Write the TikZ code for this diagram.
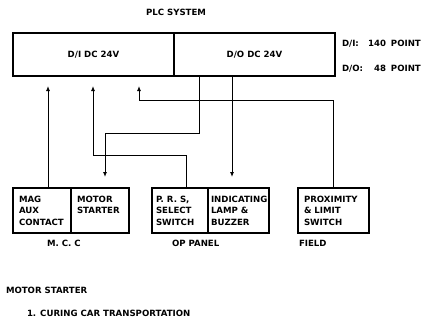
\documentclass[tikz,border=0pt]{standalone}
\usepackage{fontspec}
\setmainfont{DejaVu Sans}
\usetikzlibrary{arrows.meta}
\begin{document}
\begin{tikzpicture}[x=1pt,y=-1pt,
	every node/.style={font=\bfseries\fontsize{8.6}{11.5}\selectfont,inner sep=0pt,outer sep=0pt},
	plc/.style={draw,line width=1.4pt,anchor=north west,minimum width=161pt,minimum height=43pt},
	unit/.style={draw,line width=1.4pt,anchor=north west,minimum height=45pt},
	txt/.style={anchor=north west,align=left},
	wire/.style={line width=.9pt},
	arr/.style={wire,-{Latex[length=5pt,width=4pt]}}]
	\useasboundingbox(0,0)rectangle(427,321);
	\node(title)at(176,12.5){PLC SYSTEM};
	\node[plc](di)at(13,33){D/I DC 24V};
	\node[plc](do)at(di.north east){D/O DC 24V};
	\node[txt](pts)at(342,38.5){\begin{tabular}{@{}l@{\hspace{5pt}}r@{\hspace{5pt}}l@{}}
		D/I:&140&POINT\\[13.5pt]
		D/O:&48&POINT\end{tabular}};
	\node[unit,minimum width=58pt](mag)at(13,188){};
	\node[unit,minimum width=58pt](mst)at(mag.north east){};
	\node[unit,minimum width=56pt](pbs)at(152,188){};
	\node[unit,minimum width=61pt](ind)at(pbs.north east){};
	\node[unit,minimum width=71pt](prox)at(298,188){};
	\node[txt](magt)at([shift={(6,8)}]mag.north west){MAG\\AUX\\CONTACT};
	\node[txt](mstt)at([shift={(6,8)}]mst.north west){MOTOR\\STARTER};
	\node[txt](pbst)at([shift={(4,8)}]pbs.north west){P. R. S,\\SELECT\\SWITCH};
	\node[txt](indt)at([shift={(3,8)}]ind.north west){INDICATING\\LAMP \&\\BUZZER};
	\node[txt](proxt)at([shift={(6,8)}]prox.north west){PROXIMITY\\\& LIMIT\\SWITCH};
	\node[anchor=north west](mcc)at([shift={(34,7)}]mag.south west){M. C. C};
	\node[anchor=north west](op)at([shift={(20,7)}]pbs.south west){OP PANEL};
	\node[anchor=north west](fld)at([shift={(1,7)}]prox.south west){FIELD};
	\node[anchor=west](ms)at(6,290){MOTOR STARTER};
	\node[anchor=west](cur)at(27,313){1. CURING CAR TRANSPORTATION};
	\coordinate(i1)at([shift={(35,10)}]di.south west);
	\coordinate(i2)at([shift={(80,10)}]di.south west);
	\coordinate(i3)at([shift={(126,10)}]di.south west);
	\coordinate(o1)at([shift={(25,0)}]do.south west);
	\coordinate(o2)at([shift={(58,0)}]do.south west);
	\coordinate(t1)at([shift={(34,-11)}]mst.north west);
	\coordinate(t2)at([shift={(24,-11)}]ind.north west);
	\draw[arr](mag.north-|i1)--(i1);
	\draw[arr]([shift={(34,0)}]pbs.north west)--++(0,-33)-|(i2);
	\draw[arr]([shift={(35,0)}]prox.north west)--++(0,-88)-|(i3);
	\draw[arr](o1)--++(0,57)-|(t1);
	\draw[arr](o2)--(t2);
\end{tikzpicture}
\end{document}
